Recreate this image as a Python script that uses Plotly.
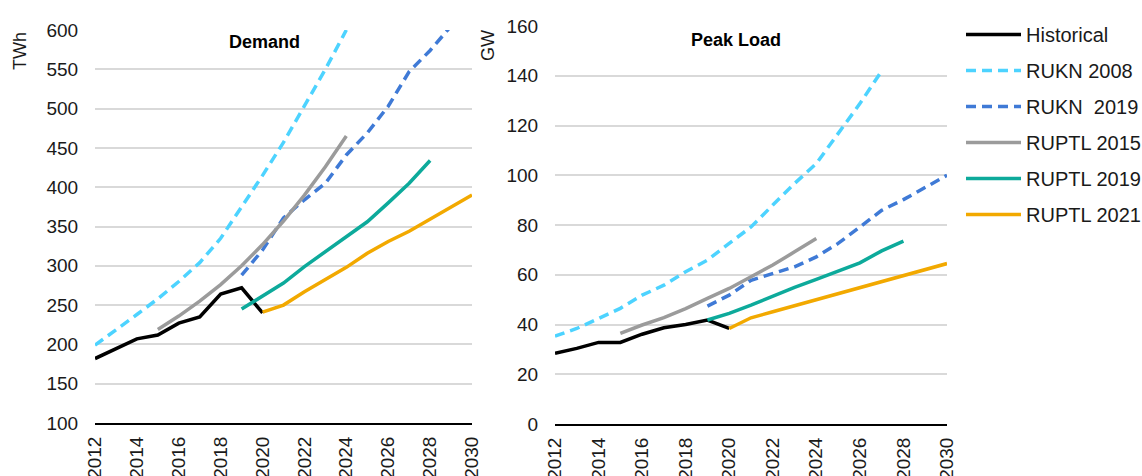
import plotly.graph_objects as go

years_hist = list(range(2012, 2021))
demand_hist = [182, 195, 207, 212, 227, 235, 264, 272, 240]
peak_hist = [28.4, 30.4, 32.8, 32.8, 36.1, 38.7, 40.0, 41.8, 38.4]

years_rukn08_d = list(range(2012, 2025))
demand_rukn08 = [199, 218, 238, 258, 280, 304, 335, 375, 415, 457, 503, 550, 600]
years_rukn08_p = list(range(2012, 2028))
peak_rukn08 = [35.3, 38.4, 42.4, 46.5, 51.8, 55.8, 61.2, 65.9, 72.6, 79.2, 88.0, 96.7, 104.7, 116.7, 128.8, 141.9]

years_rukn19_d = list(range(2019, 2030))
demand_rukn19 = [288, 320, 361, 384, 405, 441, 469, 503, 547, 574, 605]
years_rukn19_p = list(range(2019, 2031))
peak_rukn19 = [47.4, 51.8, 57.8, 60.5, 63.2, 67.2, 72.6, 79.2, 85.9, 90.2, 95.0, 100.0]

years_ruptl15 = list(range(2015, 2025))
demand_ruptl15 = [219, 236, 255, 276, 300, 327, 357, 390, 426, 465]
peak_ruptl15 = [36.4, 39.8, 42.8, 46.4, 50.5, 54.5, 59.2, 63.9, 69.2, 74.6]

years_ruptl19 = list(range(2019, 2029))
demand_ruptl19 = [245, 261, 278, 299, 318, 337, 356, 380, 405, 434]
peak_ruptl19 = [41.8, 44.5, 47.8, 51.4, 54.9, 58.1, 61.4, 64.8, 69.6, 73.5]

years_ruptl21 = list(range(2020, 2031))
demand_ruptl21 = [241, 250, 267, 282, 298, 316, 331, 344, 359, 374, 390]
peak_ruptl21 = [38.4, 42.7, 45.1, 47.5, 49.8, 52.2, 54.7, 57.2, 59.6, 62.1, 64.5]

series = [
    ("Historical", "#000000", "solid", years_hist, demand_hist, years_hist, peak_hist),
    ("RUKN 2008", "#4DD3FF", "10px,6px", years_rukn08_d, demand_rukn08, years_rukn08_p, peak_rukn08),
    ("RUKN  2019", "#3F7AD6", "10px,6px", years_rukn19_d, demand_rukn19, years_rukn19_p, peak_rukn19),
    ("RUPTL 2015", "#9B9B9B", "solid", years_ruptl15, demand_ruptl15, years_ruptl15, peak_ruptl15),
    ("RUPTL 2019", "#0DAA9B", "solid", years_ruptl19, demand_ruptl19, years_ruptl19, peak_ruptl19),
    ("RUPTL 2021", "#F2A900", "solid", years_ruptl21, demand_ruptl21, years_ruptl21, peak_ruptl21),
]

W, H = 1142, 476
fig = go.Figure()
for name, color, dash, xd, yd, xp, yp in series:
    fig.add_trace(go.Scatter(x=xd, y=yd, mode="lines", name=name,
                             line=dict(color=color, width=3.5, dash=dash),
                             xaxis="x", yaxis="y", legendgroup=name, showlegend=True))
    fig.add_trace(go.Scatter(x=xp, y=yp, mode="lines", name=name,
                             line=dict(color=color, width=3.5, dash=dash),
                             xaxis="x2", yaxis="y2", legendgroup=name, showlegend=False))

font = "Arial, Liberation Sans, sans-serif"
TXT = "#1a1a1a"
xcommon = dict(range=[2012, 2030], dtick=2, tick0=2012, tickangle=-90, showgrid=False,
               showline=True, linecolor="#000000", linewidth=2, ticks="outside", ticklen=4,
               tickcolor="rgba(0,0,0,0)", tickfont=dict(size=19, color=TXT), zeroline=False,
               automargin=False)
ycommon = dict(showgrid=True, gridcolor="#D9D9D9", gridwidth=1.5, showline=False, zeroline=False,
               ticks="outside", ticklen=12, tickcolor="rgba(0,0,0,0)",
               tickfont=dict(size=19, color=TXT), automargin=False)

fig.update_layout(
    width=W, height=H,
    margin=dict(l=0, r=0, t=0, b=0, autoexpand=False),
    paper_bgcolor="white", plot_bgcolor="white",
    font=dict(family=font, size=18, color=TXT),
    xaxis=dict(domain=[95 / W, 472 / W], anchor="y", **xcommon),
    yaxis=dict(domain=[(H - 423) / H, (H - 30) / H], range=[100, 600], dtick=50, anchor="x", **ycommon),
    xaxis2=dict(domain=[555 / W, 947 / W], anchor="y2", **xcommon),
    yaxis2=dict(domain=[(H - 424) / H, (H - 26) / H], range=[0, 160], dtick=20, anchor="x2", **ycommon),
    legend=dict(x=961 / W, y=1 - 15 / H, xanchor="left", yanchor="top",
                font=dict(size=20, color=TXT), tracegroupgap=7,
                bgcolor="rgba(0,0,0,0)", itemwidth=55),
    showlegend=True,
    annotations=[
        dict(text="<b>Demand</b>", x=264 / W, y=1 - 42 / H, xref="paper", yref="paper",
             showarrow=False, font=dict(size=18, color="#000000"), xanchor="center", yanchor="middle"),
        dict(text="<b>Peak Load</b>", x=736 / W, y=1 - 40 / H, xref="paper", yref="paper",
             showarrow=False, font=dict(size=18, color="#000000"), xanchor="center", yanchor="middle"),
        dict(text="TWh", x=20 / W, y=1 - 51 / H, xref="paper", yref="paper", textangle=-90,
             showarrow=False, font=dict(size=18, color=TXT), xanchor="center", yanchor="middle"),
        dict(text="GW", x=488 / W, y=1 - 46 / H, xref="paper", yref="paper", textangle=-90,
             showarrow=False, font=dict(size=18, color=TXT), xanchor="center", yanchor="middle"),
    ],
)

fig.write_html("out.html", config={"displayModeBar": False},
               post_script="document.body.style.margin='0';document.body.style.overflow='hidden';")
